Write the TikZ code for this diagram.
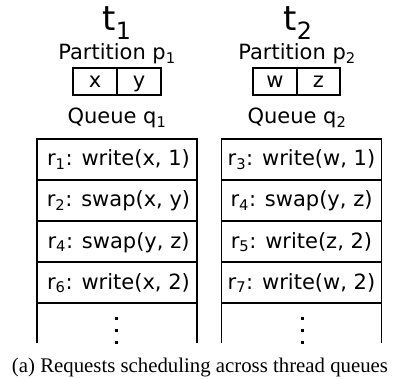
\documentclass[tikz,border=0pt]{standalone}
\usepackage{fontspec}
\setmainfont{DejaVu Sans}
\newfontfamily\capfont{Liberation Serif}
\newcommand{\sbs}[1]{\textsubscript{#1}}
\begin{document}
\begin{tikzpicture}[x=1pt,y=-1pt,
  lbl/.style={anchor=base,inner sep=0pt,font=\fontsize{21}{25}\selectfont},
  ttl/.style={anchor=base,inner sep=0pt,font=\fontsize{34}{40}\selectfont},
  qbox/.style={line width=1.1pt},
  dotmark/.style={fill=black,draw=none}]
\useasboundingbox (0,0) rectangle (401,379);
% titles
\node[ttl] (t1) at (117,30.5) {t\sbs{1}};
\node[ttl] (t2) at (298,30.5) {t\sbs{2}};
\node[lbl] (p1) at (117,59.5) {Partition p\sbs{1}};
\node[lbl] (p2) at (297,59.5) {Partition p\sbs{2}};
% partition boxes
\draw[qbox] (73,68) rectangle (161,95);
\draw[qbox] (117,68) -- (117,95);
\draw[qbox] (253,68) rectangle (340,95);
\draw[qbox] (297,68) -- (297,95);
\node[lbl] (x) at (95,88) {x};
\node[lbl] (y) at (139,88) {y};
\node[lbl] (w) at (275,88) {w};
\node[lbl] (z) at (318.5,88) {z};
\node[lbl] (q1) at (117,124) {Queue q\sbs{1}};
\node[lbl] (q2) at (297,124) {Queue q\sbs{2}};
% queue 1
\draw[qbox] (37,343) -- (37,139) -- (197,139) -- (197,343);
\foreach \yy in {180,221,262,303} \draw[qbox] (37,\yy) -- (197,\yy);
% queue 2
\draw[qbox] (221.5,343) -- (221.5,139) -- (381.5,139) -- (381.5,343);
\foreach \yy in {180,221,262,303} \draw[qbox] (221.5,\yy) -- (381.5,\yy);
\node[lbl] (r1) at (118.5,166) {r\sbs{1}: write(x, 1)};
\node[lbl] (r2) at (118.5,207) {r\sbs{2}: swap(x, y)};
\node[lbl] (r4a) at (118.5,248) {r\sbs{4}: swap(y, z)};
\node[lbl] (r6) at (118.5,289) {r\sbs{6}: write(x, 2)};
\node[lbl] (r3) at (301.5,166) {r\sbs{3}: write(w, 1)};
\node[lbl] (r4b) at (301.5,207) {r\sbs{4}: swap(y, z)};
\node[lbl] (r5) at (301.5,248) {r\sbs{5}: write(z, 2)};
\node[lbl] (r7) at (301.5,289) {r\sbs{7}: write(w, 2)};
% vertical dots
\foreach \cx in {116,302.5}
  \foreach \cy in {318,330,342}
    \fill[dotmark] (\cx-1.5,\cy-1.5) rectangle (\cx+1.5,\cy+1.5);
\node[anchor=base,inner sep=0pt,font=\capfont\fontsize{20.8}{24}\selectfont] (cap) at (200,372) {(a) Requests scheduling across thread queues};
\end{tikzpicture}
\end{document}
